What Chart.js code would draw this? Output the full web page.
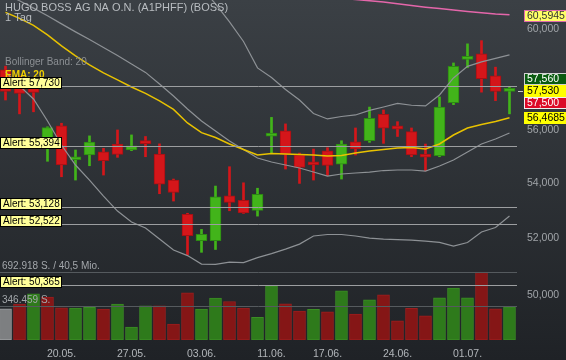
<!DOCTYPE html>
<html>
<head>
<meta charset="utf-8">
<script src="https://cdn.jsdelivr.net/npm/chart.js@4.4.1/dist/chart.umd.min.js"></script>
<style>
  html, body { margin: 0; padding: 0; background: #2b2f33; }
  #wrap { width: 566px; height: 360px; }
</style>
</head>
<body>
<div id="wrap"><canvas id="chart" width="566" height="360"></canvas></div>
<script>
// === Daten (Kurse in EUR, Tageskerzen) ===
const dates = ["14.05.", "15.05.", "16.05.", "17.05.", "20.05.", "21.05.", "22.05.", "23.05.", "24.05.",
  "27.05.", "28.05.", "29.05.", "30.05.", "31.05.", "03.06.", "04.06.", "05.06.", "06.06.", "07.06.",
  "11.06.", "12.06.", "13.06.", "14.06.", "17.06.", "18.06.", "19.06.", "20.06.", "21.06.",
  "24.06.", "25.06.", "26.06.", "27.06.", "28.06.", "01.07.", "02.07.", "03.07.", "04.07."];
const dateTicks = ["20.05.", "27.05.", "03.06.", "11.06.", "17.06.", "24.06.", "01.07."];

const open = [58.350, 58.000, 57.800, 55.682, 56.154, 54.870, 55.047, 55.172, 55.462, 55.236,
  55.500, 55.086, 54.112, 52.860, 51.910, 51.910, 53.535, 53.363, 52.998, 55.762,
  55.962, 55.047, 54.690, 55.210, 54.707, 55.550, 55.588, 56.602, 56.154, 55.935,
  54.990, 55.021, 57.056, 58.770, 58.996, 58.111, 57.500];
const close = [57.500, 57.420, 57.460, 56.088, 54.675, 54.900, 55.538, 54.833, 55.073, 55.399,
  55.480, 53.957, 53.652, 52.087, 52.136, 53.497, 53.290, 52.912, 53.587, 55.840,
  55.073, 54.584, 54.675, 54.660, 55.462, 55.273, 56.448, 56.065, 56.027, 55.047,
  54.970, 56.884, 58.489, 58.790, 58.001, 57.500, 57.530];
const high = [58.500, 58.100, 57.900, 56.120, 56.258, 55.236, 55.773, 55.300, 56.000, 55.810,
  55.750, 55.470, 54.149, 52.896, 52.315, 53.890, 54.608, 54.011, 53.810, 56.484,
  56.232, 55.120, 55.272, 55.323, 55.588, 56.076, 56.884, 56.772, 56.318, 56.076,
  55.462, 57.280, 58.628, 59.400, 59.530, 58.460, 57.680];
const low = [57.160, 56.620, 56.700, 54.812, 54.234, 54.112, 54.645, 54.298, 54.960, 55.210,
  54.983, 53.608, 53.340, 51.405, 51.500, 51.600, 52.986, 52.890, 52.793, 55.115,
  54.521, 53.988, 54.112, 54.272, 54.149, 55.047, 55.527, 55.489, 55.750, 54.983,
  54.457, 54.983, 56.978, 58.437, 57.468, 57.135, 56.620];

const volume = [319000, 366800, 471800, 438200, 329100, 326100, 332200, 315900, 366800, 132500,
  349500, 349500, 163000, 482000, 315900, 428000, 393300, 326100, 230300, 553300,
  369900, 295500, 311800, 288400, 502400, 264900, 410700, 461600, 196700, 322000,
  247600, 431000, 529900, 431000, 692918, 319000, 339300];
// u = Schluss über Vortag, d = darunter, n = ohne Vortag
const volumeDir = ["n", "d", "u", "d", "d", "u", "u", "d", "u", "u", "u", "d", "d", "d", "u", "u", "d", "d", "u",
  "u", "d", "d", "u", "d", "u", "d", "u", "d", "d", "d", "d", "u", "u", "u", "d", "d", "u"];

const bbUpper = [64.60, 64.75, 64.85, 64.90, 64.95, 64.85, 64.65, 64.35, 64.00, 63.65,
  63.25, 62.80, 62.45, 62.275, 61.723, 61.049, 60.301, 59.496, 58.430, 58.050,
  57.575, 57.162, 56.636, 56.423, 56.519, 56.578, 56.753, 56.888, 57.025, 56.956,
  56.931, 57.358, 58.030, 58.490, 58.670, 58.811, 58.952];
const bbMid = [61.470, 61.175, 60.870, 60.550, 60.218, 59.889, 59.574, 59.252, 58.924, 58.590,
  58.250, 57.792, 57.319, 56.811, 56.345, 55.960, 55.578, 55.256, 54.934, 54.785,
  54.672, 54.560, 54.410, 54.261, 54.336, 54.373, 54.410, 54.466, 54.485, 54.485,
  54.447, 54.635, 54.859, 55.161, 55.465, 55.655, 55.884];
const bbLower = [58.269, 57.713, 57.201, 56.345, 55.426, 54.672, 54.112, 53.523, 52.975, 52.578,
  52.363, 51.969, 51.579, 51.385, 51.087, 51.077, 51.157, 51.140, 51.315, 51.456,
  51.615, 51.791, 52.078, 52.132, 52.132, 52.078, 52.006, 51.969, 51.951, 51.933,
  51.897, 51.852, 51.720, 51.845, 52.220, 52.381, 52.794];
const ema20 = [60.695, 60.446, 60.156, 59.766, 59.317, 58.912, 58.550, 58.230, 57.951, 57.673,
  57.418, 57.123, 56.791, 56.268, 55.895, 55.712, 55.464, 55.256, 55.048, 55.104,
  55.085, 55.067, 55.048, 55.010, 55.029, 55.123, 55.199, 55.256, 55.313, 55.332,
  55.275, 55.464, 55.806, 56.075, 56.210, 56.326, 56.4685];
const sma200 = [null, null, null, null, null, null, null, null, null, null,
  null, null, null, null, null, null, null, null, null, null,
  null, 61.42, 61.38, 61.33, 61.28, 61.23, 61.18, 61.13, 61.05, 60.98,
  60.91, 60.85, 60.79, 60.73, 60.68, 60.63, 60.5945];

const alertLevels = [57.730, 55.394, 53.128, 52.522, 50.365];
const priceTicks = [50, 52, 54, 56, 60];
const quoteValues = [57.560, 57.530, 57.500]; // Brief / Letzter / Geld
const volumeMarks = [692918, 346459];
const volumeMarkLabels = ["692.918 S. / 40,5 Mio.", "346.459 S."];

// === Stil ===
const FONT = "'Liberation Sans', Arial, sans-serif";
const UP = "#42b41a", UP_EDGE = "#2c8a12";
const DOWN = "#d4161a", DOWN_EDGE = "#a51014";
const VOL = { u: ["#2e7a1b", "#3b8d25"], d: ["#851616", "#9b1e1e"], n: ["#7d7f81", "#9c9ea0"] };

const fmt = (v, d) => v.toFixed(d).replace(".", ",");
const idx = dates.map((_, i) => i);
const isUp = idx.map((i) => close[i] >= open[i]);

function hline(ctx, x0, x1, y) {
  ctx.beginPath();
  ctx.moveTo(x0, y);
  ctx.lineTo(x1, y);
  ctx.stroke();
}

function box(ctx, text, x, top, w, h, bg, fg, edge) {
  ctx.fillStyle = bg;
  ctx.fillRect(x, top, w, h);
  if (edge) {
    ctx.strokeStyle = edge;
    ctx.lineWidth = 1;
    ctx.strokeRect(x + 0.5, top + 0.5, w - 1, h - 1);
  }
  ctx.fillStyle = fg;
  ctx.textBaseline = "middle";
  ctx.fillText(text, x + 3, top + h / 2 + 0.5);
}

const backdrop = {
  id: "backdrop",
  beforeDraw(chart) {
    const { ctx, width, height } = chart;
    const g = ctx.createLinearGradient(0, 0, 0, height);
    g.addColorStop(0, "#3b4045");
    g.addColorStop(1, "#1f2226");
    ctx.save();
    ctx.fillStyle = g;
    ctx.fillRect(0, 0, width, height);
    ctx.restore();
  },
};

const overlay = {
  id: "overlay",
  afterDatasetsDraw(chart) {
    const { ctx, chartArea, scales } = chart;
    const y = scales.y, vol = scales.vol;
    ctx.save();
    ctx.lineWidth = 1;

    // Volumen-Marken
    ctx.strokeStyle = "#555a5e";
    volumeMarks.forEach((v) => hline(ctx, 0, chartArea.right, Math.round(vol.getPixelForValue(v)) + 0.5));

    // Alarm-Linien
    ctx.strokeStyle = "#9c9ea0";
    alertLevels.forEach((v) => hline(ctx, 0, chartArea.right, Math.round(y.getPixelForValue(v)) + 0.5));
    ctx.restore();
  },
  afterDraw(chart) {
    const { ctx, chartArea, scales } = chart;
    const y = scales.y, vol = scales.vol;
    ctx.save();

    // Legende oben links
    ctx.textBaseline = "alphabetic";
    ctx.font = "11px " + FONT;
    ctx.fillStyle = "#b8bcc0";
    ctx.fillText("HUGO BOSS AG NA O.N. (A1PHFF) (BOSS)", 5, 11);
    ctx.fillText("1 Tag", 5, 21);
    ctx.font = "10px " + FONT;
    ctx.fillStyle = "#8b8f93";
    ctx.fillText("Bollinger Band: 20", 5, 65);
    ctx.fillStyle = "#e0609e";
    ctx.fillText("SMA: 200", 7, 89);
    ctx.font = "bold 10px " + FONT;
    ctx.fillStyle = "#f0d000";
    ctx.fillText("EMA: 20", 5, 78);

    // Volumen-Beschriftung
    ctx.font = "10px " + FONT;
    ctx.fillStyle = "#a3a7ab";
    volumeMarks.forEach((v, i) => {
      ctx.fillText(volumeMarkLabels[i], 2, Math.round(vol.getPixelForValue(v)) - 3);
    });

    // Alarm-Etiketten
    alertLevels.forEach((v) => {
      const py = Math.round(y.getPixelForValue(v));
      box(ctx, "Alert: " + fmt(v, 3), 0, py - 9, 62, 12, "#ffff99", "#000", "#000");
    });

    // Kursmarken rechts
    ctx.font = "10.5px " + FONT;
    const bx = chartArea.right + 7, bw = 50, bh = 12;
    const last = y.getPixelForValue(quoteValues[1]);
    const smaLast = sma200[sma200.length - 1], emaLast = ema20[ema20.length - 1];
    box(ctx, fmt(smaLast, 4), bx, Math.round(y.getPixelForValue(smaLast)) - 5, bw, bh, "#ffff66", "#333", "#e06aae");
    box(ctx, fmt(quoteValues[0], 3), bx, Math.round(last) - 18, bw, bh, "#0a5c10", "#fff", "#d0d0d0");
    box(ctx, fmt(quoteValues[1], 3), bx, Math.round(last) - 6, bw, bh, "#ffff00", "#000", null);
    box(ctx, fmt(quoteValues[2], 3), bx, Math.round(last) + 6, bw, bh, "#dc0a28", "#fff", "#f0f0f0");
    box(ctx, fmt(emaLast, 4), bx, Math.round(y.getPixelForValue(emaLast)) - 6, bw, bh, "#ffff00", "#000", null);

    ctx.strokeStyle = "#c8c8c8";
    hline(ctx, chartArea.right + 1, chartArea.right + 6, Math.round(last) + 0.5);
    ctx.restore();
  },
};

const line = (data, color, width, order) => ({
  type: "line",
  data: idx.map((i) => ({ x: i, y: data[i] })),
  borderColor: color,
  borderWidth: width,
  pointRadius: 0,
  tension: 0,
  yAxisID: "y",
  order,
});

new Chart(document.getElementById("chart"), {
  type: "bar",
  data: {
    datasets: [
      line(sma200, "#e466aa", 1.5, 1),
      line(ema20, "#e8c200", 1.5, 2),
      line(bbUpper, "#8d9195", 1.2, 3),
      line(bbMid, "#8d9195", 1.2, 3),
      line(bbLower, "#8d9195", 1.2, 3),
      {
        // Kerzenkörper
        data: idx.map((i) => ({ x: i, y: [open[i], close[i]] })),
        backgroundColor: idx.map((i) => (isUp[i] ? UP : DOWN)),
        borderColor: idx.map((i) => (isUp[i] ? UP_EDGE : DOWN_EDGE)),
        borderWidth: 1,
        borderSkipped: false,
        barThickness: 11,
        minBarLength: 3,
        grouped: false,
        yAxisID: "y",
        order: 5,
      },
      {
        // Dochte
        data: idx.map((i) => ({ x: i, y: [low[i], high[i]] })),
        backgroundColor: idx.map((i) => (isUp[i] ? UP : DOWN)),
        borderWidth: 0,
        barThickness: 2,
        grouped: false,
        yAxisID: "y",
        order: 6,
      },
      {
        data: idx.map((i) => ({ x: i, y: volume[i] })),
        backgroundColor: idx.map((i) => VOL[volumeDir[i]][0]),
        borderColor: idx.map((i) => VOL[volumeDir[i]][1]),
        borderWidth: 1,
        borderSkipped: false,
        barThickness: 12,
        grouped: false,
        yAxisID: "vol",
        order: 9,
      },
    ],
  },
  options: {
    responsive: false,
    animation: false,
    devicePixelRatio: 1,
    events: [],
    layout: { padding: 0 },
    plugins: { legend: { display: false }, tooltip: { enabled: false } },
    scales: {
      x: {
        type: "linear",
        offset: false,
        min: -0.393,
        max: 36.536,
        grid: { display: false, drawTicks: false },
        border: { display: false },
        afterBuildTicks: (s) => {
          s.ticks = dateTicks.map((d) => ({ value: dates.indexOf(d) }));
        },
        afterFit: (s) => {
          s.height = 20;
          s.paddingLeft = 0;
          s.paddingRight = 0;
        },
        ticks: {
          callback: (v) => dates[v],
          color: "#b2b6ba",
          font: { family: FONT, size: 10.5 },
          padding: 8,
          maxRotation: 0,
          autoSkip: false,
        },
      },
      y: {
        type: "logarithmic",
        position: "right",
        min: 48.5,
        max: 61.21,
        grid: { display: false, drawTicks: false },
        border: { display: false },
        afterBuildTicks: (s) => {
          s.ticks = priceTicks.map((v) => ({ value: v }));
        },
        afterFit: (s) => {
          s.width = 49;
          s.paddingTop = 0;
          s.paddingBottom = 0;
        },
        ticks: {
          callback: (v) => fmt(v, 3),
          color: "#a0a4a8",
          font: { family: FONT, size: 10.5 },
          padding: 10,
          autoSkip: false,
        },
      },
      vol: {
        type: "linear",
        display: false,
        min: 0,
        max: 3470000,
      },
    },
  },
  plugins: [backdrop, overlay],
});
</script>
</body>
</html>
